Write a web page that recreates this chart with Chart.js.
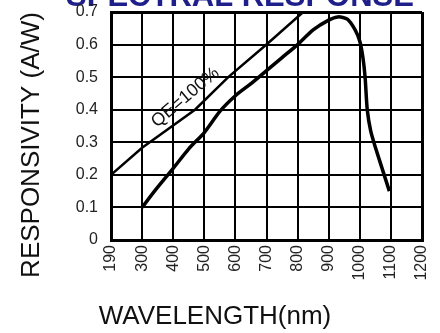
<!DOCTYPE html>
<html lang="en">
<head>
<meta charset="UTF-8">
<title>Spectral Response</title>
<script src="https://cdn.jsdelivr.net/npm/chart.js@4.4.0/dist/chart.umd.min.js"></script>
<style>
    html, body { margin: 0; padding: 0; background: #fff; }
    #wrap { width: 440px; height: 333px; }
</style>
</head>
<body>
<div id="wrap"><canvas id="respChart" width="440" height="333"></canvas></div>
<script>
// wavelength ticks are evenly spaced on the sheet (190 -> 300 is one step)
const xTickLabels = [190, 300, 400, 500, 600, 700, 800, 900, 1000, 1100, 1200];
const yTickLabels = ['0', '0.1', '0.2', '0.3', '0.4', '0.5', '0.6', '0.7'];

// responsivity curve (nm, A/W)
const respWavelength = [300, 340, 400, 450, 500, 550, 600, 650, 700, 750, 800, 850, 900, 930, 960, 985, 1000, 1010, 1017, 1024, 1035, 1050, 1075, 1095];
const respValue      = [0.10, 0.15, 0.22, 0.28, 0.33, 0.395, 0.443, 0.48, 0.52, 0.56, 0.60, 0.645, 0.675, 0.685, 0.678, 0.645, 0.61, 0.56, 0.50, 0.40, 0.335, 0.285, 0.21, 0.15];

// QE = 100% reference line
const qeWavelength = [190, 300, 470, 577, 700, 818];
const qeValue      = [0.20, 0.283, 0.40, 0.50, 0.60, 0.70];

const QE_LABEL_NM = 462;

// nm -> position on the (evenly spaced) tick axis
function axisPos(nm) {
    return nm <= 300 ? (nm - 190) / 110 : 1 + (nm - 300) / 100;
}

function toPoints(xs, ys) {
    return xs.map((w, i) => ({ x: axisPos(w), y: ys[i] }));
}

const FONT = "'Liberation Sans', Arial, sans-serif";

function edgeWidth(n) {
    return ctx => (ctx.index === 0 || ctx.index === n - 1) ? 3 : 2;
}

const annotate = {
    id: 'annotate',
    beforeDraw(chart) {
        // title, cut off at the top edge like the original (drawn under the tick labels)
        const ctx = chart.ctx;
        ctx.save();
        ctx.font = 'bold 31px ' + FONT;
        ctx.fillStyle = '#1f1f8c';
        ctx.textAlign = 'center';
        ctx.textBaseline = 'alphabetic';
        ctx.fillText('SPECTRAL RESPONSE', 240, 6);
        ctx.restore();
    },
    afterDraw(chart) {
        const { ctx, scales: { x, y } } = chart;
        ctx.save();

        // "QE=100%" sitting on the reference line
        const a = { x: x.getPixelForValue(axisPos(qeWavelength[0])), y: y.getPixelForValue(qeValue[0]) };
        const b = { x: x.getPixelForValue(axisPos(qeWavelength[5])), y: y.getPixelForValue(qeValue[5]) };
        const ang = Math.atan2(b.y - a.y, b.x - a.x);
        const px = x.getPixelForValue(axisPos(QE_LABEL_NM));
        const py = a.y + (px - a.x) * (b.y - a.y) / (b.x - a.x);
        ctx.translate(px, py);
        ctx.rotate(ang);
        ctx.font = '18px ' + FONT;
        ctx.fillStyle = '#111';
        ctx.textAlign = 'center';
        ctx.textBaseline = 'alphabetic';
        ctx.fillText('QE=100%', 0, -6);
        ctx.setTransform(1, 0, 0, 1, 0, 0);

        // axis titles
        ctx.fillStyle = '#111';
        ctx.font = '26px ' + FONT;
        ctx.textBaseline = 'middle';
        ctx.fillText('WAVELENGTH(nm)', 215, 317);
        ctx.translate(32, 145);
        ctx.rotate(-Math.PI / 2);
        ctx.fillText('RESPONSIVITY (A/W)', 0, 0);
        ctx.restore();
    }
};

new Chart(document.getElementById('respChart'), {
    type: 'line',
    data: {
        datasets: [
            {
                label: 'Responsivity',
                data: toPoints(respWavelength, respValue),
                borderColor: '#000',
                borderWidth: 3.5,
                pointRadius: 0,
                tension: 0.25
            },
            {
                label: 'QE=100%',
                data: toPoints(qeWavelength, qeValue),
                borderColor: '#000',
                borderWidth: 2.5,
                pointRadius: 0,
                tension: 0
            }
        ]
    },
    options: {
        responsive: false,
        animation: false,
        devicePixelRatio: 1,
        layout: { padding: { top: 12, right: 18, left: 0, bottom: 0 } },
        plugins: {
            legend: { display: false },
            tooltip: { enabled: false }
        },
        scales: {
            x: {
                type: 'linear',
                min: 0,
                max: xTickLabels.length - 1,
                afterFit: s => { s.height = 93; s.paddingLeft = 0; s.paddingRight = 0; },
                afterBuildTicks: s => {
                    s.ticks = xTickLabels.map((_, i) => ({ value: i }));
                },
                border: { display: true, color: '#000', width: 3 },
                grid: { color: '#000', lineWidth: edgeWidth(xTickLabels.length), drawTicks: false },
                ticks: {
                    autoSkip: false,
                    minRotation: 90,
                    maxRotation: 90,
                    padding: 5,
                    color: '#222',
                    font: { family: FONT, size: 16 },
                    callback: (v, i) => xTickLabels[i]
                }
            },
            y: {
                min: 0,
                max: 0.7,
                afterFit: s => { s.width = 111; s.paddingTop = 0; s.paddingBottom = 0; },
                afterBuildTicks: s => {
                    s.ticks = yTickLabels.map((_, i) => ({ value: i / 10 }));
                },
                border: { display: true, color: '#000', width: 3 },
                grid: { color: '#000', lineWidth: edgeWidth(yTickLabels.length), drawTicks: false },
                ticks: {
                    padding: 13,
                    color: '#222',
                    font: { family: FONT, size: 16 },
                    callback: (v, i) => yTickLabels[i]
                }
            }
        }
    },
    plugins: [annotate]
});
</script>
</body>
</html>
